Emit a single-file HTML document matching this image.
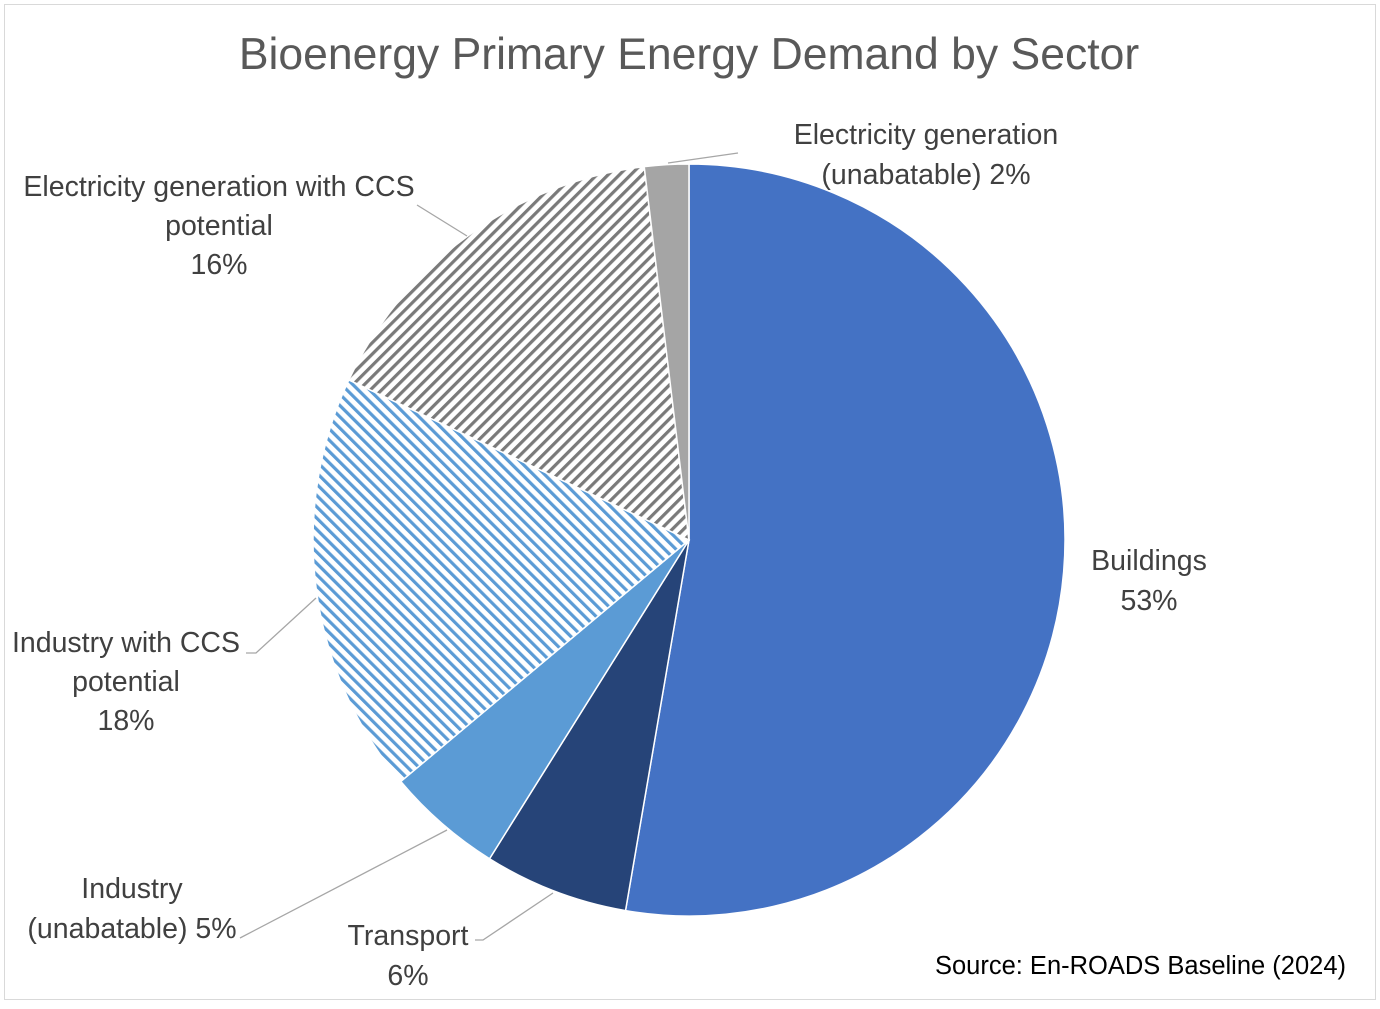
<!DOCTYPE html>
<html><head><meta charset="utf-8"><style>
body{margin:0;background:#fff;}
svg text{font-family:"Liberation Sans","DejaVu Sans",sans-serif;}
</style></head><body>
<svg width="1380" height="1004" viewBox="0 0 1380 1004">
<defs>
<pattern id="hatchGray" width="8" height="8" patternUnits="userSpaceOnUse" patternTransform="rotate(45)">
<rect width="8" height="8" fill="#fff"/><rect width="3.2" height="8" fill="#7a7a7a"/></pattern>
<pattern id="hatchBlue" width="8" height="8" patternUnits="userSpaceOnUse" patternTransform="rotate(-45)">
<rect width="8" height="8" fill="#fff"/><rect width="3.2" height="8" fill="#5b9bd5"/></pattern>
</defs>
<rect x="4.5" y="4.5" width="1371" height="995" fill="#fff" stroke="#d9d9d9"/>
<text x="689" y="69" text-anchor="middle" font-size="44.5" fill="#595959">Bioenergy Primary Energy Demand by Sector</text>
<g id="slices"></g>
<g id="leaders" stroke="#a6a6a6" stroke-width="1.3" fill="none">
<polyline points="738,153 668,163"/>
<polyline points="417,205 467,236"/>
<polyline points="246,653 256,653 316,598"/>
<polyline points="240,938 447,830"/>
<polyline points="475,940 483,940 553,893"/>
</g>
<g font-size="28.5" fill="#404040" text-anchor="middle">
<text x="926" y="144"><tspan x="926">Electricity generation</tspan><tspan x="926" dy="40">(unabatable) 2%</tspan></text>
<text x="219" y="196"><tspan x="219">Electricity generation with CCS</tspan><tspan x="219" dy="39">potential</tspan><tspan x="219" dy="39">16%</tspan></text>
<text x="1149" y="570"><tspan x="1149">Buildings</tspan><tspan x="1149" dy="40">53%</tspan></text>
<text x="126" y="652"><tspan x="126">Industry with CCS</tspan><tspan x="126" dy="39">potential</tspan><tspan x="126" dy="39">18%</tspan></text>
<text x="132" y="898"><tspan x="132">Industry</tspan><tspan x="132" dy="40">(unabatable) 5%</tspan></text>
<text x="408" y="945"><tspan x="408">Transport</tspan><tspan x="408" dy="40">6%</tspan></text>
</g>
<text x="1346" y="974" text-anchor="end" font-size="25.5" fill="#000">Source: En-ROADS Baseline (2024)</text>
</svg>
<script>
const categories=["Buildings","Transport","Industry (unabatable)","Industry with CCS potential","Electricity generation with CCS potential","Electricity generation (unabatable)"];
const values=[52.7,6.2,5.0,18.1,16.1,1.9];
const fills=["#4472c4","#264478","#5b9bd5","url(#hatchBlue)","url(#hatchGray)","#a5a5a5"];
const cx=689,cy=540,r=376;
const g=document.getElementById('slices');
const total=values.reduce((a,b)=>a+b,0);
let a0=0;
function pt(a){return [cx+r*Math.sin(a),cy-r*Math.cos(a)];}
values.forEach((v,i)=>{
 const a1=a0+v/total*2*Math.PI;
 const p0=pt(a0),p1=pt(a1);
 const large=(a1-a0)>Math.PI?1:0;
 const p=document.createElementNS('http://www.w3.org/2000/svg','path');
 p.setAttribute('d',`M${cx},${cy}L${p0[0]},${p0[1]}A${r},${r} 0 ${large} 1 ${p1[0]},${p1[1]}Z`);
 p.setAttribute('fill',fills[i]);
 p.setAttribute('stroke','#fff');
 p.setAttribute('stroke-width','1.5');
 
 
 g.appendChild(p);
 a0=a1;
});
</script>
</body></html>
